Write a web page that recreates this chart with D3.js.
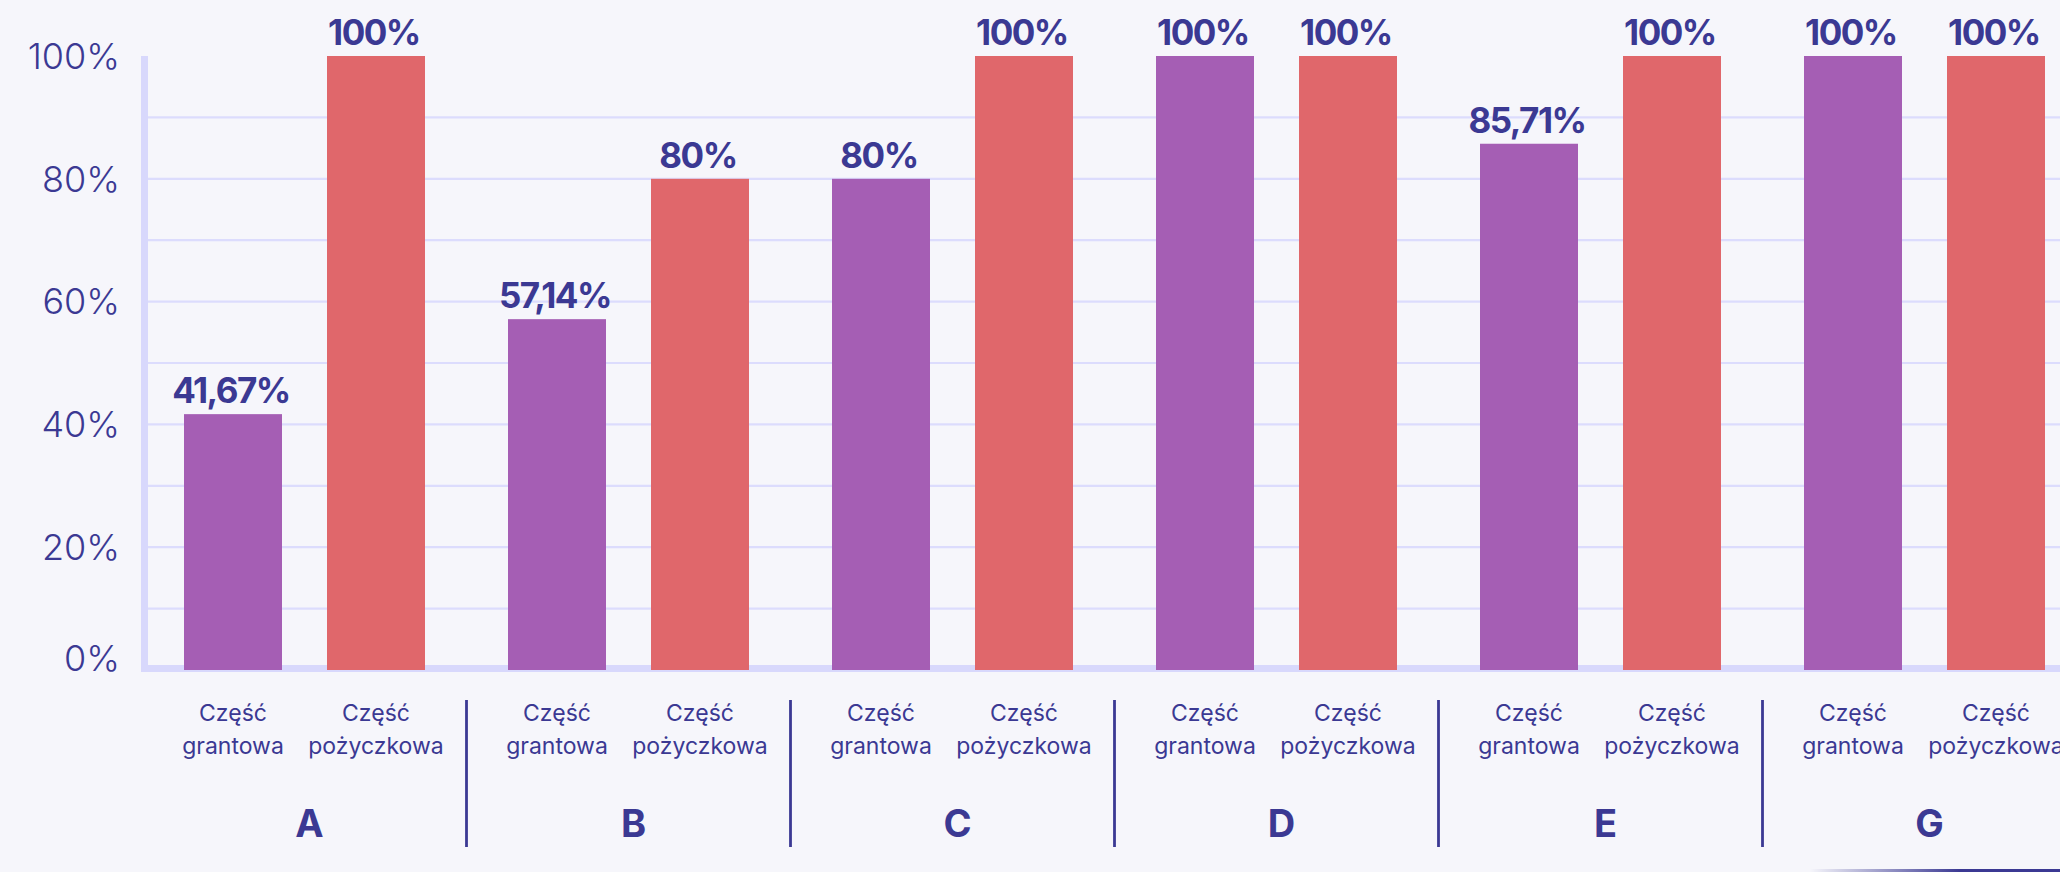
<!DOCTYPE html>
<html>
<head>
<meta charset="utf-8">
<script src="https://cdn.jsdelivr.net/npm/d3@7"></script>
<style>
  html, body { margin: 0; padding: 0; background: #f6f6fb; }
  svg { display: block; }
</style>
</head>
<body>
<svg id="canvas"></svg>
<script>
//--datasets
let groups = ['A', 'B', 'C', 'D', 'E', 'G'];
let series = ['Część grantowa', 'Część pożyczkowa'];
let grantowa = [41.67, 57.14, 80, 100, 85.71, 100];
let pozyczkowa = [100, 80, 100, 100, 100, 100];
let tickValues = [0, 20, 40, 60, 80, 100];
let gridValues = [10, 20, 30, 40, 50, 60, 70, 80, 90];
//--

//--canvas dimensions
let width = 2060;
let height = 872;
let ink = '#3b3993';
let font = 'Inter, "Noto Sans", sans-serif';
let colors = ['#a55eb4', '#e0676b'];
//--

let canvas = d3.select('#canvas')
canvas.attr('width', width)
canvas.attr('height', height)

canvas.append('rect')
      .attr('width', width)
      .attr('height', height)
      .attr('fill', '#f6f6fb')

//--scales
let x0 = d3.scaleBand()
           .domain(groups)
           .range([142.5, 142.5 + 324 * groups.length])

let x1 = d3.scaleBand()
           .domain(series)
           .range([41.5, 282.5])
           .paddingInner(45 / 143)

let y = d3.scaleLinear()
          .domain([0, 100])
          .range([670, 56])

let fmt = d3.formatLocale({decimal: ',', thousands: ' ', grouping: [3], currency: ['', '']})
let pct = v => (Number.isInteger(v) ? fmt.format('d')(v) : fmt.format('.2f')(v)) + '%'
//--

//--gridlines
canvas.append('g')
      .selectAll('line')
      .data(gridValues)
      .enter()
      .append('line')
      .attr('x1', 148)
      .attr('x2', width)
      .attr('y1', d => y(d))
      .attr('y2', d => y(d))
      .attr('stroke', '#dcdcfd')
      .attr('stroke-width', 2.2)

//--axes (thick lavender bars)
canvas.append('line')
      .attr('x1', 144.5).attr('x2', 144.5)
      .attr('y1', y(100)).attr('y2', 672)
      .attr('stroke', '#d8d8fc')
      .attr('stroke-width', 7)

canvas.append('line')
      .attr('x1', 141).attr('x2', width)
      .attr('y1', 668.5).attr('y2', 668.5)
      .attr('stroke', '#d8d8fc')
      .attr('stroke-width', 7)

//--y tick labels
let yAxis = d3.axisLeft(y)
              .tickValues(tickValues)
              .tickFormat(d => d + '%')
              .tickSize(0)
              .tickPadding(0)

let yg = canvas.append('g')
               .attr('transform', 'translate(120,0)')
               .call(yAxis)

yg.select('.domain').remove()
yg.selectAll('text')
  .attr('fill', ink)
  .attr('font-family', font)
  .attr('font-weight', 300)
  .attr('font-size', 36)
  .attr('dy', d => d === 0 ? '0em' : '0.34em')
//--

//--bars
let rows = groups.map((g, i) => ({group: g, values: [grantowa[i], pozyczkowa[i]]}))

let block = canvas.selectAll('g.group')
                  .data(rows)
                  .enter()
                  .append('g')
                  .attr('class', 'group')
                  .attr('transform', d => 'translate(' + x0(d.group) + ',0)')

let bars = block.selectAll('g.bar')
                .data(d => d.values.map((v, j) => ({key: series[j], value: v, idx: j})))
                .enter()
                .append('g')
                .attr('class', 'bar')

bars.append('rect')
    .attr('x', d => x1(d.key))
    .attr('y', d => y(d.value))
    .attr('width', x1.bandwidth())
    .attr('height', d => y(0) - y(d.value))
    .attr('fill', d => colors[d.idx])

bars.append('text')
    .text(d => pct(d.value))
    .attr('x', d => x1(d.key) + x1.bandwidth() / 2 - 2)
    .attr('y', d => y(d.value) - 11)
    .attr('text-anchor', 'middle')
    .attr('fill', ink)
    .attr('font-family', font)
    .attr('font-weight', 700)
    .attr('font-size', 35)
    .attr('letter-spacing', -1.5)

//--category labels under bars (two lines)
let cat = bars.append('text')
              .attr('text-anchor', 'middle')
              .attr('fill', ink)
              .attr('font-family', font)
              .attr('font-weight', 400)
              .attr('font-size', 23)

cat.selectAll('tspan')
   .data(d => d.key.split(' ').map(w => ({w: w, x: x1(d.key) + x1.bandwidth() / 2})))
   .enter()
   .append('tspan')
   .attr('x', d => d.x)
   .attr('y', (d, i) => 721 + i * 33)
   .text(d => d.w)

//--group letters
block.append('text')
     .text(d => d.group)
     .attr('x', x0.bandwidth() / 2 + 5)
     .attr('y', 837)
     .attr('text-anchor', 'middle')
     .attr('fill', ink)
     .attr('font-family', font)
     .attr('font-weight', 700)
     .attr('font-size', 38)

//--separators between groups
canvas.append('g')
      .selectAll('line')
      .data(groups.slice(1))
      .enter()
      .append('line')
      .attr('x1', d => x0(d))
      .attr('x2', d => x0(d))
      .attr('y1', 700)
      .attr('y2', 847)
      .attr('stroke', ink)
      .attr('stroke-width', 2.8)

//--bottom right fading rule
let grad = canvas.append('defs')
                 .append('linearGradient')
                 .attr('id', 'fade')
grad.append('stop').attr('offset', '0%').attr('stop-color', ink).attr('stop-opacity', 0)
grad.append('stop').attr('offset', '60%').attr('stop-color', ink).attr('stop-opacity', 1)

canvas.append('rect')
      .attr('x', 1810)
      .attr('y', 869)
      .attr('width', width - 1810)
      .attr('height', 3)
      .attr('fill', 'url(#fade)')
</script>
</body>
</html>
